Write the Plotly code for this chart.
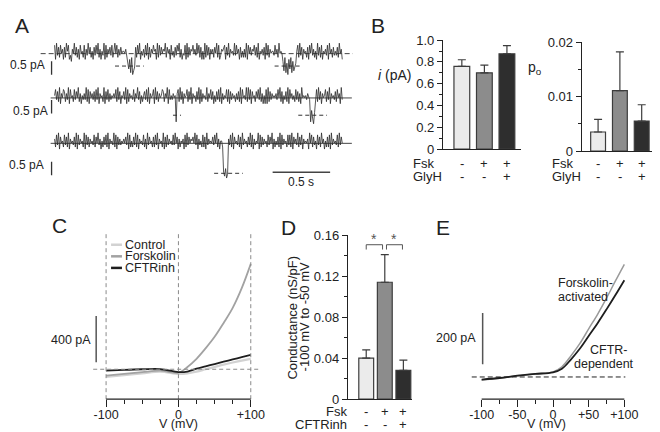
import plotly.graph_objects as go

W, H = 660, 432
def fx(p): return p / W
def fy(p): return 1 - p / H

FONT = "Liberation Sans, Arial, Helvetica, sans-serif"
INK = "#222222"

# ---------------- Panel A: single-channel records (levels read by eye) ----------------
# digit = closed-state noise level, letter = open-state noise level
A_records = [
    ("8193728461" "7295813064" "9372618452" "8163947251" "7384926153"
     "9182647382" "5948263745" "546"
     "3gdibjace"
     "7284915362" "8391726485" "6192837465" "9274618352" "7385926143"
     "8192736584" "6394827151" "9283716462" "7492813657" "8173926453"
     "9384617252" "6291847365" "8372915463" "7193826455" "38462945"
     "4hcjbgaidjbhceg5"
     "8293716452" "7184936251" "9372815463" "8194627353" "729461"),
    ("5837291648" "7263918452" "8374926153" "6392817463" "7283916452"
     "9173826354" "6482937154" "7391826453" "8264937152" "5738291645"
     "8193726458" "7264918353" "645"
     "b"
     "6829371645" "8273916452" "7391826453" "9264837152" "7382916354"
     "8281736452" "6372918453" "9293817452" "7483926151" "8192736454"
     "6384927153" "7291846352" "8372619454" "5364"
     "3bhdag"
     "5829371645" "8273916453" "72846193"),
    ("6283917452" "8372916453" "7291836452" "9183726453" "8274936152"
     "7382916453" "9281736354" "6473918252" "7392816453" "8261937452"
     "7283916452" "9172836453" "8394716254" "6182937465" "7493816352"
     "8271936454" "7384926155"
     "2fdhce"
     "6382917453" "8271936452" "7392816354" "9182736452" "8374916253"
     "7291836452" "8382917463" "9273816454" "6194827351" "8372946152"
     "7281936453" "829374"),
]
A_dt = 0.0086                      # s per sample
A_noise_step = 0.075               # pA per digit level
A_noise_bias = 0.05
A_open_step = 0.07
A_open_levels = [-0.46, -0.64, -1.11]          # pA
A_open_segments = [[(0.526, 0.776), (1.914, 2.155)],
                   [(1.03, 1.10), (2.12, 2.37)],
                   [(1.388, 1.638)]]
A_scale_pA = 0.5
A_scale_s = 0.5

# layout constants for panel A
A_offsets = [0.0, -1.64, -3.32]
A_base_x = [(-0.121, 2.595), (-0.034, 2.586), (-0.034, 2.586)]
A_bar_x = -0.026
A_bar_top = [-0.286, -0.074, -0.68]
A_lab = [(-0.069, -0.43), (-0.043, -2.14), (-0.078, -4.11)]

# ---------------- Panel B ----------------
B_i_mean = [0.76, 0.70, 0.875]
B_i_err = [0.06, 0.07, 0.075]
B_po_mean = [0.0035, 0.0111, 0.0055]
B_po_err = [0.0023, 0.0071, 0.0030]
B_rows = [("Fsk", ["-", "+", "+"]), ("GlyH", ["-", "-", "+"])]

# ---------------- Panel C ----------------
C_V = [-100, -75, -50, -25, 0, 12.5, 25, 37.5, 50, 62.5, 75, 87.5, 100]
C_control = [-67, -50, -35, -20, -40, -35, -20, 0, 20, 40, 58, 75, 90]
C_forskolin = [-55, -40, -25, -12, -30, 20, 90, 180, 280, 400, 530, 700, 910]
C_cftrinh = [-12, -5, 0, 2, -25, -20, 5, 25, 45, 65, 85, 105, 125]
C_names = ["Control", "Forskolin", "CFTRinh"]
C_colors = ["#d2d2d2", "#a2a2a2", "#1e1e1e"]

# ---------------- Panel D ----------------
D_mean = [0.040, 0.114, 0.028]
D_err = [0.008, 0.027, 0.010]
D_rows = [("Fsk", ["-", "+", "+"]), ("CFTRinh", ["-", "-", "+"])]

# ---------------- Panel E ----------------
E_V = [-100, -75, -50, -25, 0, 12.5, 25, 37.5, 50, 62.5, 75, 87.5, 100]
E_fsk = [-12, -5, 5, 12, 20, 40, 82, 130, 188, 245, 308, 375, 440]
E_cftr = [-10, -4, 5, 12, 18, 32, 68, 110, 160, 210, 264, 320, 378]

BAR_COLORS = ["#ebebeb", "#8c8c8c", "#2e2e2e"]
BAR_LINE = "#3c3c3c"

fig = go.Figure()
ann = []
shapes = []

def line_trace(x, y, color, width, xa, ya, dash="solid", shape="linear"):
    return go.Scatter(x=x, y=y, mode="lines", xaxis=xa, yaxis=ya,
                      line=dict(color=color, width=width, dash=dash, shape=shape),
                      hoverinfo="skip", showlegend=False)

# ---- Panel A traces
for k, s in enumerate(A_records):
    off = A_offsets[k]
    lev = A_open_levels[k]
    ys = []
    for ch in s:
        if ch.isdigit():
            ys.append(off + (int(ch) - 4.5) * A_noise_step + A_noise_bias)
        else:
            ys.append(off + lev + (ord(ch) - 97 - 4.5) * A_open_step)
    xs = [i * A_dt for i in range(len(s))]
    fig.add_trace(line_trace(list(A_base_x[k]), [off, off], "#444", 1, "x", "y",
                             dash="5px,3px" if k == 0 else "solid"))
    for (a, b) in A_open_segments[k]:
        fig.add_trace(line_trace([a, b], [off + lev, off + lev], "#333", 1, "x", "y", dash="4px,3px"))
    fig.add_trace(line_trace(xs, ys, "#2c2c2c", 0.8, "x", "y"))
    top = off + A_bar_top[k]
    fig.add_trace(line_trace([A_bar_x, A_bar_x], [top, top - A_scale_pA], "#333", 1.3, "x", "y"))
    ann.append(dict(x=A_lab[k][0], y=A_lab[k][1], xref="x", yref="y", text="0.5 pA",
                    showarrow=False, xanchor="right", yanchor="middle",
                    font=dict(size=12, color=INK)))
# time bar
fig.add_trace(line_trace([1.897, 1.897 + A_scale_s], [-4.39, -4.39], "#444", 1.3, "x", "y"))
ann.append(dict(x=1.897 + A_scale_s / 2, y=-4.75, xref="x", yref="y", text="0.5 s",
                showarrow=False, xanchor="center", yanchor="middle", font=dict(size=12, color=INK)))

# ---- Bar panels
def bars(mean, err, xa, ya, width):
    return go.Bar(x=[0, 1, 2], y=mean, width=width, xaxis=xa, yaxis=ya,
                  marker=dict(color=BAR_COLORS, line=dict(color=BAR_LINE, width=1.2)),
                  error_y=dict(type="data", array=err, arrayminus=[0, 0, 0], symmetric=False,
                               color=BAR_LINE, thickness=1.2, width=4),
                  hoverinfo="skip", showlegend=False)

fig.add_trace(bars(B_i_mean, B_i_err, "x2", "y2", 0.70))
fig.add_trace(bars(B_po_mean, B_po_err, "x3", "y3", 0.68))
fig.add_trace(bars(D_mean, D_err, "x5", "y5", 0.80))

def cond_rows(rows, xref, label_x, label_anchor, ys):
    for (name, signs), yy in zip(rows, ys):
        ann.append(dict(x=fx(label_x), y=fy(yy), xref="paper", yref="paper", text=name,
                        showarrow=False, xanchor=label_anchor, yanchor="middle",
                        font=dict(size=13, color=INK)))
        for i, sg in enumerate(signs):
            ann.append(dict(x=i, y=fy(yy), xref=xref, yref="paper", text=sg,
                            showarrow=False, xanchor="center", yanchor="middle",
                            font=dict(size=13, color=INK)))

cond_rows(B_rows, "x2", 407, "left", [154, 167])
cond_rows(B_rows, "x3", 547, "left", [154, 167])
cond_rows(D_rows, "x5", 344, "right", [411, 424])

# significance brackets in D
for (a, b) in [(0.0, 0.88), (1.09, 1.95)]:
    fig.add_trace(line_trace([a, a, b, b], [0.1459, 0.1506, 0.1506, 0.1459], "#555", 1, "x5", "y5"))
    ann.append(dict(x=(a + b) / 2, y=0.1506, xref="x5", yref="y5", text="*", showarrow=False,
                    xanchor="center", yanchor="bottom", yshift=-4, font=dict(size=14, color="#555")))

# ---- Panel C
for v in [-100, 0, 100]:
    shapes.append(dict(type="line", xref="x4", yref="y4 domain", x0=v, x1=v, y0=0, y1=1,
                       line=dict(color="#8a8a8a", width=1, dash="4px,3px")))
shapes.append(dict(type="line", xref="x4", yref="y4", x0=-117.8, x1=113.7, y0=0, y1=0,
                   line=dict(color="#8a8a8a", width=1, dash="4px,3px")))
shapes.append(dict(type="line", xref="x4", yref="y4 domain", x0=-100, x1=100, y0=0, y1=0,
                   line=dict(color=INK, width=1.2)))
for ys_, col, w in [(C_control, C_colors[0], 2.2), (C_forskolin, C_colors[1], 1.8), (C_cftrinh, C_colors[2], 1.8)]:
    fig.add_trace(line_trace(C_V, ys_, col, w, "x4", "y4", shape="spline"))
# 400 pA scale bar
fig.add_trace(line_trace([-113.7, -113.7], [60, 460], "#555", 1.5, "x4", "y4"))
ann.append(dict(x=fx(86), y=fy(337), xref="paper", yref="paper", text="400 pA", showarrow=False,
                xanchor="right", yanchor="middle", font=dict(size=12.5, color=INK)))
for i, (nm, col) in enumerate(zip(C_names, C_colors)):
    yy = 238 + 12 * i
    shapes.append(dict(type="line", xref="paper", yref="paper", x0=fx(104), x1=fx(115),
                       y0=fy(yy), y1=fy(yy), line=dict(color=col, width=2.5)))
    ann.append(dict(x=fx(116), y=fy(yy), xref="paper", yref="paper", text=nm, showarrow=False,
                    xanchor="left", yanchor="middle", font=dict(size=12.5, color=INK)))
ann.append(dict(x=0, y=fy(424), xref="x4", yref="paper", text="V (mV)", showarrow=False,
                xanchor="center", yanchor="middle", font=dict(size=12.5, color=INK)))

# ---- Panel E
shapes.append(dict(type="line", xref="x6", yref="y6", x0=-113.9, x1=101.4, y0=0, y1=0,
                   line=dict(color=INK, width=1, dash="5px,3px")))
shapes.append(dict(type="line", xref="x6", yref="y6 domain", x0=-100, x1=100, y0=0, y1=0,
                   line=dict(color=INK, width=1.2)))
fig.add_trace(line_trace(E_V, E_fsk, "#9a9a9a", 1.5, "x6", "y6", shape="spline"))
fig.add_trace(line_trace(E_V, E_cftr, "#1e1e1e", 1.8, "x6", "y6", shape="spline"))
fig.add_trace(line_trace([-98.6, -98.6], [50, 250], "#555", 1.5, "x6", "y6"))
ann.append(dict(x=fx(474), y=fy(335), xref="paper", yref="paper", text="200 pA", showarrow=False,
                xanchor="right", yanchor="middle", font=dict(size=12.5, color=INK)))
ann.append(dict(x=0, y=fy(424), xref="x6", yref="paper", text="V (mV)", showarrow=False,
                xanchor="center", yanchor="middle", xshift=-7, font=dict(size=12.5, color=INK)))
for txt, xx, yy, anc in [("Forskolin-", 553, 278, "left"), ("activated", 553, 292, "left"),
                         ("CFTR-", 628, 347, "right"), ("dependent", 634, 362, "right")]:
    ann.append(dict(x=fx(xx), y=fy(yy), xref="paper", yref="paper", text=txt, showarrow=False,
                    xanchor=anc, yanchor="middle", font=dict(size=12.5, color=INK)))

# ---- axis titles / panel letters
ann.append(dict(x=fx(390), y=fy(62), xref="paper", yref="paper", text="<i>i</i> (pA)", showarrow=False,
                xanchor="center", yanchor="middle", font=dict(size=14, color=INK)))
ann.append(dict(x=fx(532), y=fy(55), xref="paper", yref="paper", text="p<sub>o</sub>", showarrow=False,
                xanchor="center", yanchor="middle", font=dict(size=14, color=INK)))
ann.append(dict(x=fx(287), y=fy(313), xref="paper", yref="paper", text="Conductance (nS/pF)",
                showarrow=False, textangle=-90, xanchor="center", yanchor="middle",
                font=dict(size=13, color=INK)))
ann.append(dict(x=fx(299), y=fy(313), xref="paper", yref="paper", text="-100 mV to -50 mV",
                showarrow=False, textangle=-90, xanchor="center", yanchor="middle",
                font=dict(size=13, color=INK)))
for L, xx, yy in [("A", 14, 11), ("B", 373, 11), ("C", 52, 218), ("D", 283, 220), ("E", 439, 220)]:
    ann.append(dict(x=fx(xx), y=fy(yy), xref="paper", yref="paper", text=L, showarrow=False,
                    xanchor="center", yanchor="middle", font=dict(size=21, color=INK)))

# ---- axes
def hidden(domain, rng, anchor):
    return dict(domain=domain, range=rng, visible=False, anchor=anchor, fixedrange=True)

def bar_x(domain, rng, anchor):
    return dict(domain=domain, range=rng, showline=True, linecolor=INK, linewidth=1.2,
                showticklabels=False, ticks="", showgrid=False, zeroline=False, anchor=anchor)

def bar_y(domain, rng, anchor, tv, tt, minor):
    return dict(domain=domain, range=rng, showline=True, linecolor=INK, linewidth=1.2,
                ticks="outside", ticklen=5, tickwidth=1.2, tickcolor=INK,
                tickvals=tv, ticktext=tt, tickfont=dict(size=13, color=INK),
                minor=dict(tickvals=minor, ticks="outside", ticklen=3, tickwidth=1.2,
                           tickcolor=INK, showgrid=False),
                showgrid=False, zeroline=False, anchor=anchor)

def iv_x(domain, rng, anchor, tv, tt, minor):
    return dict(domain=domain, range=rng, showline=False, ticks="outside", ticklen=7,
                tickwidth=1.2, tickcolor=INK, tickvals=tv, ticktext=tt,
                tickfont=dict(size=12.5, color=INK), ticklabelstandoff=-3,
                minor=dict(tickvals=minor, ticks="outside", ticklen=4, tickwidth=1.2,
                           tickcolor=INK, showgrid=False),
                showgrid=False, zeroline=False, anchor=anchor)

fig.update_layout(
    width=W, height=H, margin=dict(l=0, r=0, t=0, b=0),
    paper_bgcolor="white", plot_bgcolor="rgba(0,0,0,0)",
    font=dict(family=FONT, color=INK), showlegend=False, barmode="group",
    xaxis=hidden([0, fx(360)], [-0.405, 2.698], "y"),
    yaxis=hidden([fy(185), 1], [-5.18, 1.43], "x"),
    xaxis2=bar_x([fx(439), fx(518)], [-0.835, 2.637], "y2"),
    yaxis2=bar_y([fy(139), fy(26)], [0, 1.0], "x2", [0, 0.2, 0.4, 0.6, 0.8, 1.0],
                 ["0", "0.2", "0.4", "0.6", "0.8", "1.0"], [0.1, 0.3, 0.5, 0.7, 0.9]),
    xaxis3=bar_x([fx(579), fx(657)], [-0.75, 2.795], "y3"),
    yaxis3=bar_y([fy(141), fy(28)], [0, 0.02], "x3", [0, 0.01, 0.02],
                 ["0", "0.01", "0.02"], [0.005, 0.015]),
    xaxis4=iv_x([fx(80), fx(258)], [-126.0, 117.8], "y4", [-100, 0, 100],
                ["-100", "0", "+100"], [-75, -50, -25, 25, 50, 75]),
    yaxis4=hidden([fy(398), fy(227)], [-258.3, 1166.7], "x4"),
    xaxis5=bar_x([fx(343), fx(408)], [-0.987, 2.48], "y5"),
    yaxis5=bar_y([fy(398), fy(228)], [0, 0.16], "x5", [0, 0.04, 0.08, 0.12, 0.16],
                 ["0", "0.04", "0.08", "0.12", "0.16"], [0.02, 0.06, 0.10, 0.14]),
    xaxis6=iv_x([fx(465), fx(630)], [-118.06, 111.11], "y6", [-100, -50, 0, 50, 100],
                ["-100", "-50", "0", "+50", "+100"], [-75, -25, 25, 75]),
    yaxis6=hidden([fy(398), fy(227)], [-86.7, 558.0], "x6"),
    annotations=ann, shapes=shapes,
)

fig.write_html("out.html")
